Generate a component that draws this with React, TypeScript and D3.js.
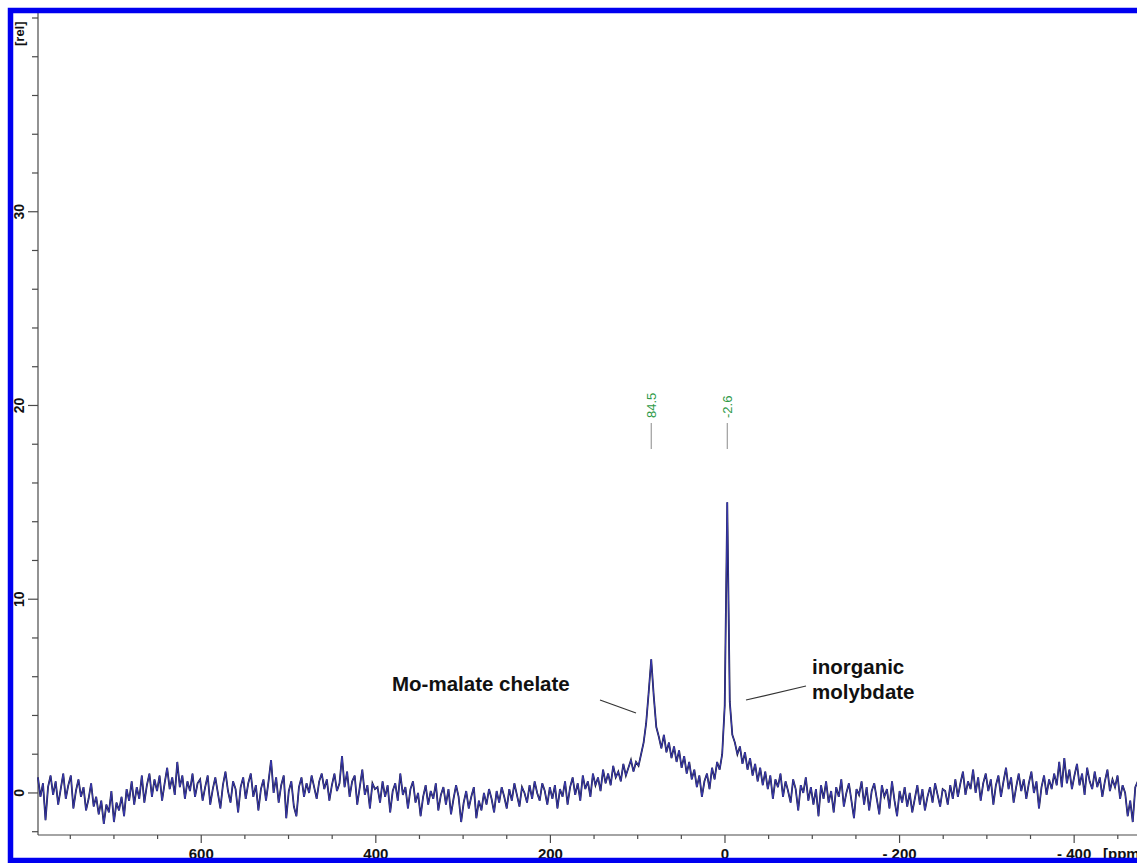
import React from 'react';
import * as d3 from 'd3';

// 95Mo spectrum, intensity in [rel] units; points are evenly spaced in ppm
const PPM_STEP = 87.1 / 30;
const PEAK_INDEX = 242; // index of the 84.5 ppm point

// 787 -> 604 ppm
const regionA = [
  0.8, -0.2, 0.5, -1.4, 0.3, 0.9, -0.1, 0.6, -0.6, 0.2, 1.0, -0.3, 0.4, 0.9, -0.8, 0.1, 0.7, -0.2, 0.3, -0.9,
  -0.3, 0.5, -0.7, -0.2, -1.1, -0.4, -1.6, -0.6, -1.0, 0.1, -1.5, -0.5, -0.9, -0.2, -1.2, 0.2, -0.4, 0.6, -0.6, 0.3,
  -0.3, 0.9, -0.5, 0.4, 1.0, -0.2, 0.7, 0.1, 0.9, -0.4, 0.5, 1.3, 0.2, 0.8, -0.1, 1.6, 0.3, 0.9, -0.3, 0.6,
  0.1, 1.0, -0.2, 0.5,
];
// 601 -> 400 ppm
const regionB = [
  0.7, -0.4, 0.3, 0.9, -0.6, 0.2, 0.8, 0.0, -0.8, 0.4, 1.1, 0.1, -0.5, 0.6, 0.2, -1.0, 0.3, 0.8, -0.3, 0.5,
  1.0, -0.2, 0.4, -0.9, 0.2, 0.7, -0.4, 0.6, 1.7, 0.0, 0.8, -0.5, 0.4, 0.9, -1.3, 0.1, 0.6, -0.7, -1.2, 0.3,
  0.8, -0.2, 0.5, 0.0, 0.9, 0.3, -0.3, 0.6, 1.0, 0.2, 0.7, -0.4, 0.4, 1.0, 0.1, 0.5, 1.9, 0.3, 1.1, -0.2,
  0.6, 0.9, -0.6, 0.3, 1.2, -0.1, 0.4, -0.8, 0.5, 0.2,
];
// 398 -> 200 ppm
const regionC = [
  0.3, -0.5, 0.6, -0.2, 0.4, -1.0, 0.1, 0.5, -0.4, 1.0, -0.1, 0.3, -0.8, 0.2, 0.6, -0.5, 0.0, -1.2, -0.2, 0.4,
  -0.6, 0.1, -0.3, 0.5, -0.9, -0.1, 0.3, -0.6, 0.2, -1.1, -0.3, 0.4, -0.2, -1.5, -0.5, 0.1, -0.8, -0.2, 0.3, -1.3,
  -0.4, -0.9, 0.0, -0.6, 0.2, -0.3, -1.0, 0.1, -0.5, 0.3, -0.2, -0.8, 0.2, -0.4, 0.5, -0.1, -0.7, 0.3, 0.0, -0.5,
  0.4, -0.3, 0.6, 0.0, -0.4, 0.5, 0.1, -0.6, 0.3,
];
// 198 -> 87 ppm, rising into the chelate peak
const regionD = [
  -0.3, 0.4, -0.8, 0.2, -0.2, 0.6, -0.6, 0.3, 0.8, -0.1, 0.5, -0.4, 0.9, 0.2, 0.6, -0.2, 1.0, 0.4, 0.8, 0.1,
  1.2, 0.5, 1.0, 0.4, 1.4, 0.8, 1.1, 0.6, 1.5, 0.9, 1.3, 1.7, 1.1, 1.6, 1.4, 2.0, 2.6, 3.6, 5.2,
];
const chelateTop = [6.9];
// 82 -> 3 ppm, between the two peaks
const regionE = [
  5.0, 3.4, 2.9, 2.3, 3.0, 2.1, 2.6, 1.8, 2.4, 1.6, 2.2, 1.3, 1.9, 1.0, 1.6, 0.7, 1.2, 0.3, 0.9, -0.2,
  0.6, 1.0, 0.2, 1.3, 0.7, 1.6, 1.2, 2.0, 4.5,
];
const molybdateTop = [15.0];
// -5 -> -100 ppm, tail of the molybdate peak
const regionF = [
  4.7, 3.0, 2.6, 2.0, 2.4, 1.5, 2.1, 1.2, 1.8, 0.9, 1.5, 0.6, 1.3, 0.4, 1.1, 0.2, 0.9, -0.3, 0.7, 0.3,
  1.0, -0.2, 0.6, 0.1, -0.5, 0.7, 0.2, -0.9, 0.4, 0.0, 0.8, -0.4, 0.3,
];
// -100 -> -250 ppm
const regionG = [
  -0.6, 0.2, -1.2, 0.4, -0.3, 0.6, -0.5, 0.1, -1.0, 0.3, -0.2, 0.7, -0.7, 0.0, 0.5, -0.4, -1.3, 0.2, -0.1, 0.6,
  -0.6, 0.3, -0.9, 0.1, 0.5, -0.3, -1.1, 0.4, -0.2, 0.2, -0.8, 0.6, -0.4, -1.2, 0.1, -0.5, 0.3, -0.7, 0.0, -1.0,
  -0.3, 0.4, -0.6, 0.2, -0.9, -0.2, 0.3, -0.5, 0.5, -0.1, -0.7, 0.2,
];
// -250 -> -473 ppm
const regionH = [
  0.1, -0.6, 0.4, -0.3, 0.7, -0.2, 0.5, 1.1, -0.1, 0.6, 0.2, 1.2, 0.0, 0.8, -0.4, 0.5, 1.0, 0.1, 0.7, -0.6,
  0.4, 0.9, -0.2, 0.6, 1.3, 0.2, 0.8, -0.5, 0.3, 1.0, 0.1, 0.7, -0.3, 0.5, 1.1, 0.0, 0.6, -0.8, 0.3, 0.9,
  -0.1, 0.7, 0.2, 1.0, 0.4, 1.6, 0.3, 1.8, 0.5, 1.2, 0.2, 0.9, 1.5, 0.4, 1.0, -0.1, 1.3, 0.6, 0.2, 1.1,
  0.3, 0.8, -0.2, 0.6, 1.2, 0.1, 0.7, 0.3, 0.9, -0.3, 0.4, 0.0, -1.2, -0.4, -1.5, 0.3, 0.6,
];

const intensities = [
  ...regionA, ...regionB, ...regionC, ...regionD, ...chelateTop,
  ...regionE, ...molybdateTop, ...regionF, ...regionG, ...regionH,
];

const xMajorTicks = [600, 400, 200, 0, -200, -400];
const xTickLabels = ['600', '400', '200', '0', '- 200', '- 400'];
const yMajorTicks = [0, 10, 20, 30];
const yTickLabels = ['0', '10', '20', '30'];

const peakPicks = [84.5, -2.6];
const peakPickLabels = ['84.5', '-2.6'];

const W = 1137;
const H = 863;
const FONT = '"Liberation Sans", Arial, sans-serif';

export default function App() {
  const x = d3.scaleLinear().domain([787, -472]).range([38, 1137]);
  const y = d3.scaleLinear().domain([-2.17, 40]).range([835, 18]);

  const points: [number, number][] = intensities.map((v, i) => [84.5 - (i - PEAK_INDEX) * PPM_STEP, v]);
  const line = d3.line<[number, number]>().x(d => x(d[0])).y(d => y(d[1]));
  const path = line(points) || '';

  const yMinor = d3.range(-2, 41, 2);
  const xMinor = d3.range(750, -475, -50);

  const axisColor = '#4a4a4a';

  return (
    <svg width={W} height={H} style={{ position: 'absolute', left: 0, top: 0, background: '#fff' }}>
      {/* y axis */}
      <line x1={38} x2={38} y1={10} y2={835} stroke={axisColor} strokeWidth={1.2} />
      {yMinor.map(v => (
        <line key={'ym' + v} x1={yMajorTicks.includes(v) ? 28 : 32} x2={38} y1={y(v)} y2={y(v)} stroke={axisColor} strokeWidth={1.2} />
      ))}
      {yMajorTicks.map((v, i) => (
        <text key={'yl' + v} transform={`translate(24,${y(v)}) rotate(-90)`} textAnchor="middle"
          fontFamily={FONT} fontWeight="bold" fontSize={14} fill="#111">{yTickLabels[i]}</text>
      ))}
      <text transform="translate(24,46) rotate(-90)" textAnchor="start"
        fontFamily={FONT} fontWeight="bold" fontSize={13} fill="#111">[rel]</text>

      {/* x axis */}
      <line x1={38} x2={W} y1={835} y2={835} stroke={axisColor} strokeWidth={1.2} />
      {xMinor.map(v => (
        <line key={'xm' + v} x1={x(v)} x2={x(v)} y1={835} y2={xMajorTicks.includes(v) ? 843 : 839} stroke={axisColor} strokeWidth={1.2} />
      ))}
      {xMajorTicks.map((v, i) => (
        <text key={'xl' + v} x={x(v)} y={859} textAnchor="middle"
          fontFamily={FONT} fontWeight="bold" fontSize={15} fill="#111">{xTickLabels[i]}</text>
      ))}
      <text x={1103} y={859} fontFamily={FONT} fontWeight="bold" fontSize={15} fill="#111">[ppm]</text>

      {/* spectrum */}
      <path d={path} fill="none" stroke="#1c1c3a" strokeWidth={1.8} strokeLinejoin="miter" />
      <path d={path} fill="none" stroke="#3a3ab4" strokeWidth={1} strokeLinejoin="miter" />

      {/* peak picks */}
      {peakPicks.map((p, i) => (
        <g key={'pk' + p}>
          <line x1={x(p)} x2={x(p)} y1={423} y2={449} stroke="#8a8a8a" strokeWidth={1} />
          <text transform={`translate(${x(p) + 4.5},418) rotate(-90)`} textAnchor="start"
            fontFamily={FONT} fontSize={13} fill="#2f9a48">{peakPickLabels[i]}</text>
        </g>
      ))}

      {/* annotations */}
      <text x={392} y={691} fontFamily={FONT} fontWeight="bold" fontSize={20.5} fill="#111">Mo-malate chelate</text>
      <line x1={600} y1={700} x2={636} y2={713} stroke="#333" strokeWidth={1.2} />
      <text x={812} y={674} fontFamily={FONT} fontWeight="bold" fontSize={20.5} fill="#111">inorganic</text>
      <text x={812} y={699} fontFamily={FONT} fontWeight="bold" fontSize={20.5} fill="#111">molybdate</text>
      <line x1={806} y1={686} x2={746} y2={700} stroke="#333" strokeWidth={1.2} />

      {/* frame */}
      <rect x={10.5} y={10.5} width={W + 20} height={850} fill="none" stroke="#0000f0" strokeWidth={5.5} />
    </svg>
  );
}
